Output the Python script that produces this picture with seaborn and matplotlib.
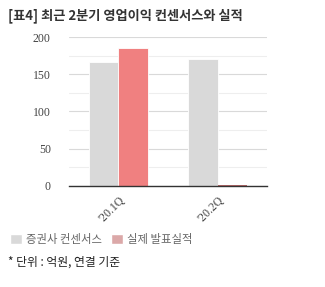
import matplotlib
matplotlib.use("Agg")
import matplotlib.pyplot as plt
import seaborn as sns
import pandas as pd
from matplotlib.patches import Patch

quarters = ["'20.1Q", "'20.2Q"]
consensus = [166, 170]
actual = [185, 1.5]
series_names = ["증권사 컨센서스", "실제 발표실적"]
yticks = [0, 50, 100, 150, 200]

sns.set_theme(style="white")
plt.rcParams['font.family'] = ['Noto Sans CJK KR', 'DejaVu Sans']

df = pd.DataFrame({
    "quarter": quarters * 2,
    "value": consensus + actual,
    "series": [series_names[0]] * 2 + [series_names[1]] * 2,
})

fig = plt.figure(figsize=(3.25, 2.87), dpi=100)
ax = fig.add_axes([0.212, 0.352, 0.61, 0.519])

palette = {series_names[0]: "#d9d9d9", series_names[1]: "#f08080"}
sns.barplot(data=df, x="quarter", y="value", hue="series", palette=palette,
            ax=ax, width=0.6, saturation=1, legend=False, linewidth=0)
for p in ax.patches:
    if 0 < p.get_height() < 5:
        p.set_facecolor("#b86868")
        p.set_edgecolor("none")
    else:
        p.set_edgecolor("white")
        p.set_linewidth(0.6)

ax.set_ylim(0, 200)
ax.set_xlim(-0.5, 1.5)
ax.set_yticks(yticks)
ax.set_yticks([25, 75, 125, 175], minor=True)
ax.grid(axis="y", which="major", color="#d9d9d9", linewidth=0.8)
ax.grid(axis="y", which="minor", color="#eeeeee", linewidth=0.8)
ax.set_axisbelow(True)
for s in ["top", "right", "left"]:
    ax.spines[s].set_visible(False)
ax.spines["bottom"].set_color("#333333")
ax.spines["bottom"].set_linewidth(1.0)
ax.set_xlabel("")
ax.set_ylabel("")
ax.tick_params(axis="y", length=0, pad=13)
ax.tick_params(axis="x", length=0, pad=6)
ax.set_yticklabels([str(v) for v in yticks], fontfamily="Liberation Serif",
                   fontsize=8.5, color="#444444")
ax.set_xticklabels(quarters, rotation=45, ha="right", rotation_mode="anchor",
                   fontfamily="Liberation Serif", fontsize=8.5, color="#444444")

fig.text(0.025, 0.945, "[표4] 최근 2분기 영업이익 컨센서스와 실적", fontsize=9.5,
         fontweight="bold", color="#333333", va="center")

handles = [Patch(facecolor="#d9d9d9", label=series_names[0]),
           Patch(facecolor="#dba8a8", label=series_names[1])]
fig.legend(handles=handles, loc="center left", bbox_to_anchor=(0.0, 0.165),
           ncol=2, frameon=False, fontsize=8.2, handlelength=1.0, handleheight=1.0,
           handletextpad=0.4, columnspacing=0.8, labelcolor="#666666")

fig.text(0.025, 0.087, "* 단위 : 억원, 연결 기준", fontsize=8.5, color="#222222", va="center")

fig.savefig("out.png", dpi=100)
